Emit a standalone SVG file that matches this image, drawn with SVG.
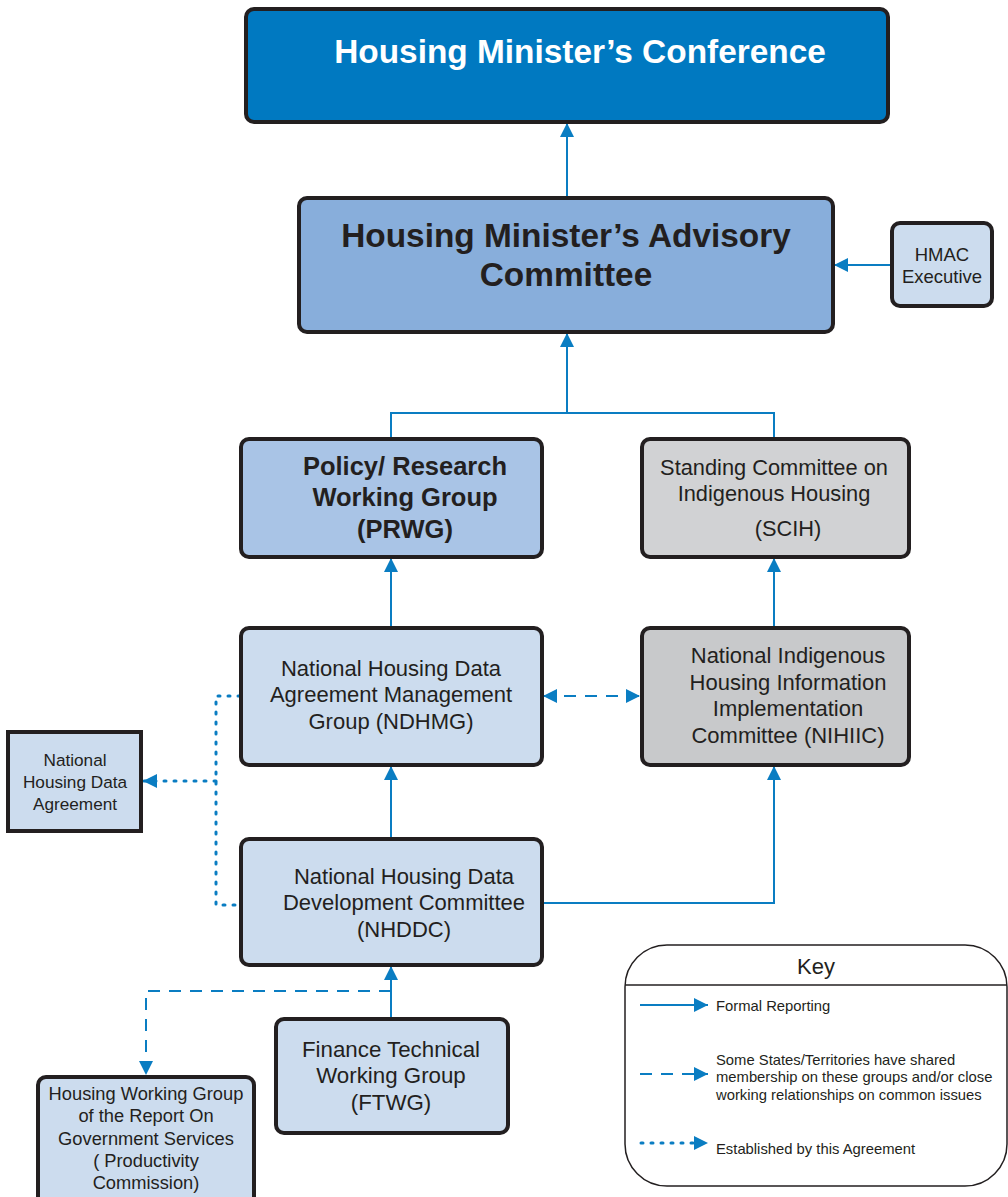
<svg xmlns="http://www.w3.org/2000/svg" width="1008" height="1197" viewBox="0 0 1008 1197">
<defs>
<marker id="ah" markerUnits="userSpaceOnUse" markerWidth="16" markerHeight="14" refX="14" refY="7" orient="auto">
<path d="M0,0 L14,7 L0,14 Z" fill="#0A7DC2"/>
</marker>
<marker id="ahs" markerUnits="userSpaceOnUse" markerWidth="16" markerHeight="14" refX="0" refY="7" orient="auto">
<path d="M14,0 L0,7 L14,14 Z" fill="#0A7DC2"/>
</marker>
</defs>
<style>
.box{stroke:#231F20;stroke-width:4}
.t{font-family:"Liberation Sans",Arial,sans-serif;fill:#231F20;text-anchor:middle}
.b{font-weight:bold}
.c{fill:none;stroke:#0A7DC2;stroke-width:2}
.dash{stroke-dasharray:12 9}
.dot{stroke-dasharray:2 8;stroke-linecap:round;stroke-width:3}
.k{font-family:"Liberation Sans",Arial,sans-serif;fill:#231F20;font-size:14.8px}
</style>
<rect width="1008" height="1197" fill="#ffffff"/>

<g id="connectors">
<line class="c" x1="567" y1="197" x2="567" y2="123" marker-end="url(#ah)"/>
<line class="c" x1="891" y1="265" x2="834" y2="265" marker-end="url(#ah)"/>
<polyline class="c" points="391,438 391,413 774,413 774,438"/>
<line class="c" x1="567" y1="413" x2="567" y2="333" marker-end="url(#ah)"/>
<line class="c" x1="391" y1="627" x2="391" y2="558" marker-end="url(#ah)"/>
<line class="c" x1="774" y1="627" x2="774" y2="558" marker-end="url(#ah)"/>
<line class="c dash" x1="543" y1="696" x2="640" y2="696" marker-start="url(#ahs)" marker-end="url(#ah)"/>
<line class="c" x1="391" y1="838" x2="391" y2="766" marker-end="url(#ah)"/>
<polyline class="c" points="542,903 774,903 774,766" marker-end="url(#ah)"/>
<line class="c" x1="391" y1="1018" x2="391" y2="966" marker-end="url(#ah)"/>
<polyline class="c dash" points="391,991 146,991 146,1075" marker-end="url(#ah)"/>
<polyline class="c dot" points="240,696 216,696 216,905 240,905"/>
<line class="c dot" x1="216" y1="781" x2="143" y2="781" marker-end="url(#ah)"/>
</g>

<g id="hmc">
<rect class="box" x="246" y="9" width="642" height="113" rx="8" fill="#0079C1"/>
<text class="t b" x="580" y="63" font-size="33.4" style="fill:#ffffff">Housing Minister’s Conference</text>
</g>

<g id="hmac">
<rect class="box" x="299" y="198" width="534" height="134" rx="8" fill="#88AEDB"/>
<text class="t b" x="566" y="247" font-size="33.4">Housing Minister’s Advisory</text>
<text class="t b" x="566" y="286" font-size="33.4">Committee</text>
</g>

<g id="hmac-exec">
<rect class="box" x="892" y="223" width="100" height="83" rx="8" fill="#CCDCEE"/>
<text class="t" x="942" y="261" font-size="18.5">HMAC</text>
<text class="t" x="942" y="283" font-size="18.5">Executive</text>
</g>

<g id="prwg">
<rect class="box" x="241" y="439" width="301" height="118" rx="8" fill="#A9C4E6"/>
<text class="t b" x="405" y="475" font-size="25.5">Policy/ Research</text>
<text class="t b" x="405" y="506" font-size="25.5">Working Group</text>
<text class="t b" x="405" y="538" font-size="25.5">(PRWG)</text>
</g>

<g id="scih">
<rect class="box" x="642" y="439" width="267" height="118" rx="8" fill="#D1D2D4"/>
<text class="t" x="774" y="475" font-size="21.8">Standing Committee on</text>
<text class="t" x="774" y="501" font-size="21.8">Indigenous Housing</text>
<text class="t" x="788" y="536" font-size="21.8">(SCIH)</text>
</g>

<g id="ndhmg">
<rect class="box" x="241" y="628" width="301" height="137" rx="8" fill="#CCDCEE"/>
<text class="t" x="391" y="676" font-size="22">National Housing Data</text>
<text class="t" x="391" y="702" font-size="22">Agreement Management</text>
<text class="t" x="391" y="729" font-size="22">Group (NDHMG)</text>
</g>

<g id="nihiic">
<rect class="box" x="642" y="628" width="267" height="137" rx="8" fill="#C8C9CB"/>
<text class="t" x="788" y="663" font-size="22">National Indigenous</text>
<text class="t" x="788" y="690" font-size="22">Housing Information</text>
<text class="t" x="788" y="716" font-size="22">Implementation</text>
<text class="t" x="788" y="743" font-size="22">Committee (NIHIIC)</text>
</g>

<g id="nhda">
<rect class="box" x="8" y="732" width="133" height="99" fill="#CCDCEE"/>
<text class="t" x="75" y="766" font-size="17.2">National</text>
<text class="t" x="75" y="788" font-size="17.2">Housing Data</text>
<text class="t" x="75" y="810" font-size="17.2">Agreement</text>
</g>

<g id="nhddc">
<rect class="box" x="241" y="839" width="301" height="126" rx="8" fill="#CCDCEE"/>
<text class="t" x="404" y="884" font-size="22">National Housing Data</text>
<text class="t" x="404" y="910" font-size="22">Development Committee</text>
<text class="t" x="404" y="937" font-size="22">(NHDDC)</text>
</g>

<g id="ftwg">
<rect class="box" x="276" y="1019" width="232" height="114" rx="8" fill="#CCDCEE"/>
<text class="t" x="391" y="1057" font-size="22.3">Finance Technical</text>
<text class="t" x="391" y="1083" font-size="22.3">Working Group</text>
<text class="t" x="391" y="1110" font-size="22.3">(FTWG)</text>
</g>

<g id="hwg">
<rect class="box" x="38" y="1077" width="216" height="130" rx="8" fill="#CCDCEE"/>
<text class="t" x="146" y="1100" font-size="18.3">Housing Working Group</text>
<text class="t" x="146" y="1122" font-size="18.3">of the Report On</text>
<text class="t" x="146" y="1145" font-size="18.3">Government Services</text>
<text class="t" x="146" y="1167" font-size="18.3">( Productivity</text>
<text class="t" x="146" y="1189" font-size="18.3">Commission)</text>
</g>

<g id="key">
<rect x="625" y="945" width="382" height="241" rx="42" fill="#ffffff" stroke="#231F20" stroke-width="1.5"/>
<line x1="625" y1="985" x2="1007" y2="985" stroke="#231F20" stroke-width="1.5"/>
<text class="t" x="816" y="974" font-size="22">Key</text>
<line class="c" x1="640" y1="1005" x2="708" y2="1005" marker-end="url(#ah)"/>
<text class="k" x="716" y="1011">Formal Reporting</text>
<line class="c dash" x1="640" y1="1074" x2="708" y2="1074" marker-end="url(#ah)"/>
<text class="k" x="716" y="1065">Some States/Territories have shared</text>
<text class="k" x="716" y="1082">membership on these groups and/or close</text>
<text class="k" x="716" y="1100">working relationships on common issues</text>
<line class="c dot" x1="641" y1="1143" x2="708" y2="1143" marker-end="url(#ah)"/>
<text class="k" x="716" y="1154">Established by this Agreement</text>
</g>
</svg>
